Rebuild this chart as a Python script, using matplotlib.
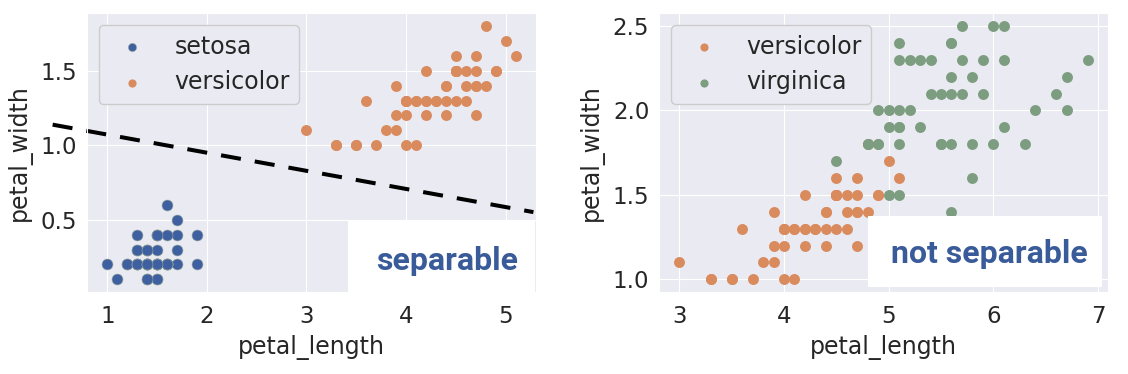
import numpy as np
import seaborn as sns
from matplotlib import pyplot as plt
from matplotlib.patches import Rectangle

# iris petal measurements (length, width) per species
setosa_length = [1.4, 1.4, 1.3, 1.5, 1.4, 1.7, 1.4, 1.5, 1.4, 1.5,
                 1.5, 1.6, 1.4, 1.1, 1.2, 1.5, 1.3, 1.4, 1.7, 1.5,
                 1.7, 1.5, 1.0, 1.7, 1.9, 1.6, 1.6, 1.5, 1.4, 1.6,
                 1.6, 1.5, 1.5, 1.4, 1.5, 1.2, 1.3, 1.4, 1.3, 1.5,
                 1.3, 1.3, 1.3, 1.6, 1.9, 1.4, 1.6, 1.4, 1.5, 1.4]
setosa_width = [0.2, 0.2, 0.2, 0.2, 0.2, 0.4, 0.3, 0.2, 0.2, 0.1,
                0.2, 0.2, 0.1, 0.1, 0.2, 0.4, 0.4, 0.3, 0.3, 0.3,
                0.2, 0.4, 0.2, 0.5, 0.2, 0.2, 0.4, 0.2, 0.2, 0.2,
                0.2, 0.4, 0.1, 0.2, 0.2, 0.2, 0.2, 0.1, 0.2, 0.2,
                0.3, 0.3, 0.2, 0.6, 0.4, 0.3, 0.2, 0.2, 0.2, 0.2]
versicolor_length = [4.7, 4.5, 4.9, 4.0, 4.6, 4.5, 4.7, 3.3, 4.6, 3.9,
                     3.5, 4.2, 4.0, 4.7, 3.6, 4.4, 4.5, 4.1, 4.5, 3.9,
                     4.8, 4.0, 4.9, 4.7, 4.3, 4.4, 4.8, 5.0, 4.5, 3.5,
                     3.8, 3.7, 3.9, 5.1, 4.5, 4.5, 4.7, 4.4, 4.1, 4.0,
                     4.4, 4.6, 4.0, 3.3, 4.2, 4.2, 4.2, 4.3, 3.0, 4.1]
versicolor_width = [1.4, 1.5, 1.5, 1.3, 1.5, 1.3, 1.6, 1.0, 1.3, 1.4,
                    1.0, 1.5, 1.0, 1.4, 1.3, 1.4, 1.5, 1.0, 1.5, 1.1,
                    1.8, 1.3, 1.5, 1.2, 1.3, 1.4, 1.4, 1.7, 1.5, 1.0,
                    1.1, 1.0, 1.2, 1.6, 1.5, 1.6, 1.5, 1.3, 1.3, 1.3,
                    1.2, 1.4, 1.2, 1.0, 1.3, 1.2, 1.3, 1.3, 1.1, 1.3]
virginica_length = [6.0, 5.1, 5.9, 5.6, 5.8, 6.6, 4.5, 6.3, 5.8, 6.1,
                    5.1, 5.3, 5.5, 5.0, 5.1, 5.3, 5.5, 6.7, 6.9, 5.0,
                    5.7, 4.9, 6.7, 4.9, 5.7, 6.0, 4.8, 4.9, 5.6, 5.8,
                    6.1, 6.4, 5.6, 5.1, 5.6, 6.1, 5.6, 5.5, 4.8, 5.4,
                    5.6, 5.1, 5.1, 5.9, 5.7, 5.2, 5.0, 5.2, 5.4, 5.1]
virginica_width = [2.5, 1.9, 2.1, 1.8, 2.2, 2.1, 1.7, 1.8, 1.8, 2.5,
                   2.0, 1.9, 2.1, 2.0, 2.4, 2.3, 1.8, 2.2, 2.3, 1.5,
                   2.3, 2.0, 2.0, 1.8, 2.1, 1.8, 1.8, 1.8, 2.1, 1.6,
                   1.9, 2.0, 2.2, 1.5, 1.4, 2.3, 2.4, 1.8, 1.8, 2.1,
                   2.4, 2.3, 1.9, 2.3, 2.5, 2.3, 1.9, 2.0, 2.3, 1.8]

# hand drawn separating line (left panel)
line_x = [0.45, 5.28]
line_y = [1.138, 0.551]

left_xticks = [1, 2, 3, 4, 5]
left_yticks = [0.5, 1.0, 1.5]
right_xticks = [3, 4, 5, 6, 7]
right_yticks = [1.0, 1.5, 2.0, 2.5]

colors = {'setosa': '#3f60a0', 'versicolor': '#d98b5e', 'virginica': '#7c9d7f'}
text_color = '#3a5b99'

sns.set_style('darkgrid')
plt.rcParams['font.family'] = ['DejaVu Sans']

fig = plt.figure(figsize=(11.28, 3.74), dpi=100)
ax1 = fig.add_axes([0.0771, 0.2193, 0.398, 0.745])
ax2 = fig.add_axes([0.5842, 0.2193, 0.398, 0.745])

ms = 62

# left panel
ax1.scatter(setosa_length, setosa_width, s=ms, c=colors['setosa'],
            linewidths=0.4, edgecolors='#9aa89a', label='setosa')
ax1.scatter(versicolor_length, versicolor_width, s=ms, c=colors['versicolor'],
            linewidths=0, label='versicolor')
ax1.margins(0.05)
ax1.autoscale_view()
xl, yl = ax1.get_xlim(), ax1.get_ylim()
ax1.plot(line_x, line_y, color='black', lw=2.9, ls=(0, (5, 3.5)),
         clip_on=False)
ax1.set_xlim(xl)
ax1.set_ylim(yl)

# right panel
ax2.scatter(versicolor_length, versicolor_width, s=ms, c=colors['versicolor'],
            linewidths=0, label='versicolor')
ax2.scatter(virginica_length, virginica_width, s=ms, c=colors['virginica'],
            linewidths=0, label='virginica')

for ax, xt, yt in [(ax1, left_xticks, left_yticks),
                   (ax2, right_xticks, right_yticks)]:
    ax.set_xticks(xt)
    ax.set_yticks(yt)
    ax.tick_params(labelsize=16.5, colors='.15')
    ax.tick_params(axis='x', pad=6)
    ax.set_xlabel('petal_length', fontsize=17, color='.15', labelpad=5)
    ax.set_ylabel('petal_width', fontsize=17, color='.15', labelpad=6)
    leg = ax.legend(loc='upper left', fontsize=17, markerscale=0.75,
                    facecolor='#eaeaf2', edgecolor='0.8', framealpha=1)
    for t in leg.get_texts():
        t.set_color('.15')

# white label boxes
ax1.add_patch(Rectangle((0.581, 0.0), 0.417, 0.255, transform=ax1.transAxes,
                        facecolor='white', edgecolor='none', zorder=5))
ax1.text(0.802, 0.079, 'separable', transform=ax1.transAxes, ha='center',
         va='baseline', fontsize=23, fontweight='bold', family='Roboto',
         color=text_color, zorder=6)

ax2.add_patch(Rectangle((0.465, 0.018), 0.522, 0.255, transform=ax2.transAxes,
                        facecolor='white', edgecolor='none', zorder=5))
ax2.text(0.736, 0.104, 'not separable', transform=ax2.transAxes, ha='center',
         va='baseline', fontsize=23, fontweight='bold', family='Roboto',
         color=text_color, zorder=6)

fig.savefig('out.png', dpi=100)
